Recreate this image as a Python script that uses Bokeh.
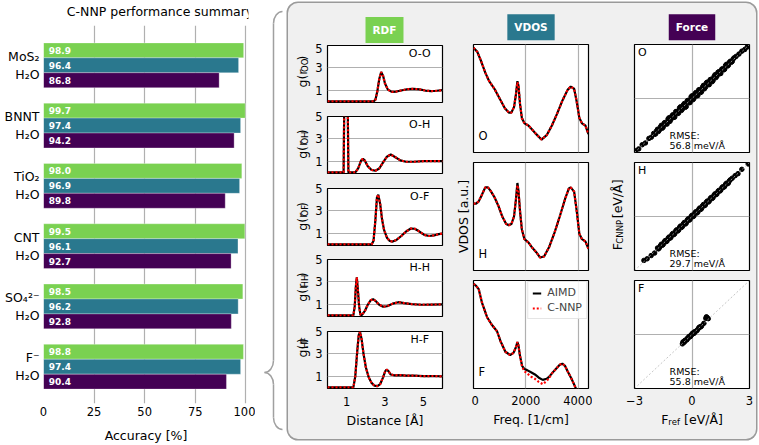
import math
from bokeh.plotting import figure
from bokeh.layouts import row, column
from bokeh.models import ColumnDataSource, Range1d, FixedTicker, Label, Slope, Spacer
from bokeh.embed import file_html
from bokeh.resources import INLINE
from bokeh.core.properties import value

FONT = "DejaVu Sans"
GREEN, TEAL, PURPLE = "#7ad151", "#2a788e", "#440154"
GRID = "#b0b0b0"
PANEL_BG = "#f0f0f0"

# ---------------- data ----------------
title_text = "C-NNP performance summary"
systems = ["MoS\u2082\nH\u2082O", "BNNT\nH\u2082O", "TiO\u2082\nH\u2082O",
           "CNT\nH\u2082O", "SO\u2084\u00b2\u207b\nH\u2082O", "F\u207b\nH\u2082O"]
acc_rdf = [98.9, 99.7, 98.0, 99.5, 98.5, 98.8]
acc_vdos = [96.4, 97.4, 96.9, 96.1, 96.2, 97.4]
acc_force = [86.8, 94.2, 89.8, 92.7, 92.8, 90.4]
acc_ticks = [0, 25, 50, 75, 100]

rdf_pairs = ["O-O", "O-H", "O-F", "H-H", "H-F"]
rdf_subs = ["OO", "OH", "OF", "HH", "HF"]
r_oo = [0, 2.40, 2.50, 2.60, 2.70, 2.80, 2.90, 3.00, 3.15, 3.35, 3.60, 3.90, 4.20, 4.50, 4.80, 5.10, 5.40, 5.70, 6.0]
g_oo = [0, 0, 0.15, 0.9, 2.0, 2.62, 2.3, 1.6, 1.05, 0.85, 0.88, 1.0, 1.1, 1.12, 1.07, 0.97, 0.92, 0.95, 1.0]
r_oh = [0, 0.84, 0.88, 0.97, 1.05, 1.09, 1.45, 1.6, 1.75, 1.85, 1.95, 2.1, 2.3, 2.5, 2.7, 2.9, 3.1, 3.3, 3.5, 3.8, 4.1, 4.5, 5.0, 5.5, 6.0]
g_oh = [0, 0, 7, 20, 7, 0, 0, 0.35, 1.05, 1.22, 1.05, 0.55, 0.22, 0.15, 0.35, 0.9, 1.4, 1.6, 1.4, 1.08, 0.95, 0.95, 1.0, 1.0, 1.0]
r_of = [0, 2.30, 2.40, 2.50, 2.58, 2.65, 2.75, 2.85, 2.95, 3.10, 3.25, 3.40, 3.60, 3.85, 4.10, 4.35, 4.55, 4.80, 5.05, 5.30, 5.55, 5.80, 6.0]
g_of = [0, 0, 0.3, 2.2, 4.2, 4.45, 3.6, 2.2, 1.3, 0.6, 0.3, 0.25, 0.4, 0.75, 1.15, 1.42, 1.4, 1.15, 0.85, 0.75, 0.8, 0.92, 0.97]
r_hh = [0, 1.35, 1.42, 1.48, 1.53, 1.58, 1.65, 1.72, 1.80, 1.95, 2.1, 2.25, 2.38, 2.5, 2.7, 2.9, 3.1, 3.4, 3.7, 4.0, 4.4, 4.9, 5.4, 6.0]
g_hh = [0, 0, 0.8, 2.6, 3.4, 2.4, 0.8, 0.05, 0.05, 0.4, 0.95, 1.35, 1.45, 1.3, 0.95, 0.78, 0.82, 1.05, 1.18, 1.1, 1.0, 0.95, 0.97, 0.98]
r_hf = [0, 1.35, 1.45, 1.55, 1.63, 1.70, 1.78, 1.88, 2.0, 2.15, 2.3, 2.45, 2.6, 2.75, 2.9, 3.0, 3.08, 3.18, 3.3, 3.5, 3.8, 4.1, 4.5, 5.0, 5.5, 6.0]
g_hf = [0, 0, 1.0, 3.2, 4.7, 4.95, 4.3, 3.0, 1.8, 0.9, 0.4, 0.15, 0.12, 0.3, 0.9, 1.4, 1.6, 1.45, 1.15, 1.08, 1.1, 1.05, 1.05, 1.0, 1.02, 0.98]
rdf_ticks = [1, 3, 5]

vdos_species = ["O", "H", "F"]
freq_o = [0, 150, 300, 450, 600, 800, 1000, 1200, 1350, 1450, 1550, 1620, 1680, 1720, 1780, 1850, 1950, 2100, 2250, 2400, 2600, 2800, 3000, 3200, 3400, 3600, 3720, 3850, 3950, 4050, 4150, 4280, 4400]
vdos_o_aimd = [0.97, 0.93, 0.84, 0.74, 0.66, 0.59, 0.50, 0.41, 0.37, 0.37, 0.42, 0.53, 0.66, 0.62, 0.45, 0.32, 0.27, 0.25, 0.21, 0.17, 0.12, 0.16, 0.25, 0.36, 0.48, 0.58, 0.61, 0.59, 0.47, 0.32, 0.27, 0.25, 0.17]
vdos_o_cnnp = [0.97, 0.93, 0.84, 0.74, 0.66, 0.59, 0.50, 0.41, 0.37, 0.37, 0.42, 0.53, 0.65, 0.62, 0.45, 0.32, 0.27, 0.25, 0.21, 0.17, 0.12, 0.16, 0.25, 0.36, 0.48, 0.58, 0.61, 0.59, 0.47, 0.32, 0.27, 0.25, 0.17]
freq_h = [0, 100, 200, 300, 450, 550, 650, 800, 950, 1100, 1250, 1350, 1450, 1550, 1620, 1680, 1720, 1780, 1850, 1950, 2100, 2250, 2400, 2550, 2700, 2900, 3100, 3300, 3500, 3650, 3720, 3850, 3950, 4050, 4150, 4280, 4400]
vdos_h_aimd = [0.62, 0.62, 0.64, 0.69, 0.77, 0.77, 0.74, 0.68, 0.60, 0.50, 0.43, 0.42, 0.43, 0.50, 0.65, 0.81, 0.74, 0.55, 0.38, 0.29, 0.26, 0.21, 0.17, 0.12, 0.13, 0.22, 0.35, 0.50, 0.66, 0.76, 0.77, 0.73, 0.55, 0.34, 0.29, 0.27, 0.20]
vdos_h_cnnp = [0.62, 0.62, 0.64, 0.69, 0.77, 0.77, 0.74, 0.68, 0.60, 0.50, 0.43, 0.42, 0.43, 0.50, 0.65, 0.79, 0.74, 0.55, 0.38, 0.29, 0.26, 0.21, 0.17, 0.12, 0.13, 0.22, 0.35, 0.50, 0.66, 0.76, 0.77, 0.73, 0.55, 0.34, 0.29, 0.27, 0.20]
freq_f = [0, 100, 200, 330, 520, 700, 900, 1030, 1220, 1400, 1530, 1620, 1680, 1720, 1780, 1860, 1950, 2050, 2200, 2350, 2500, 2650, 2800, 2900, 3000, 3150, 3300, 3400, 3500, 3600, 3750, 3900, 4000]
vdos_f_aimd = [0.97, 0.95, 0.92, 0.79, 0.66, 0.59, 0.53, 0.44, 0.34, 0.31, 0.33, 0.38, 0.43, 0.40, 0.30, 0.21, 0.18, 0.17, 0.15, 0.13, 0.10, 0.08, 0.09, 0.11, 0.14, 0.18, 0.22, 0.23, 0.21, 0.16, 0.09, 0.01, -0.05]
vdos_f_cnnp = [0.97, 0.95, 0.92, 0.79, 0.66, 0.59, 0.53, 0.44, 0.34, 0.31, 0.33, 0.38, 0.43, 0.40, 0.30, 0.20, 0.16, 0.14, 0.11, 0.09, 0.06, 0.04, 0.07, 0.10, 0.14, 0.18, 0.22, 0.23, 0.21, 0.16, 0.09, 0.01, -0.05]
vdos_ticks = [0, 2000, 4000]

force_species = ["O", "H", "F"]
force_o_ref = ([-2.95, -2.78, -2.60, -2.43, -2.25, -2.12]
               + [-2.0, -1.9, -1.8, -1.7, -1.6, -1.5, -1.4, -1.3, -1.2, -1.1, -1.0, -0.9, -0.8, -0.7, -0.6, -0.5, -0.4, -0.3, -0.2, -0.1, 0.0,
                  0.1, 0.2, 0.3, 0.4, 0.5, 0.6, 0.7, 0.8, 0.9, 1.0, 1.1, 1.2, 1.3, 1.4, 1.5, 1.6, 1.7, 1.8, 1.9, 2.0, 2.1, 2.2]
               + [-1.95, -1.85, -1.75, -1.65, -1.55, -1.45, -1.35, -1.25, -1.15, -1.05, -0.95, -0.85, -0.75, -0.65, -0.55, -0.45, -0.35, -0.25, -0.15, -0.05,
                  0.05, 0.15, 0.25, 0.35, 0.45, 0.55, 0.65, 0.75, 0.85, 0.95, 1.05, 1.15, 1.25, 1.35, 1.45, 1.55, 1.65, 1.75, 1.85, 1.95, 2.05, 2.15]
               + [2.30, 2.45, 2.60, 2.75, 2.88])
force_o_cnnp = ([-2.90, -2.80, -2.57, -2.47, -2.22, -2.15]
                + [-1.94, -1.97, -1.71, -1.75, -1.49, -1.59, -1.33, -1.42, -1.07, -1.16, -0.90, -1.03, -0.72, -0.81, -0.46, -0.59, -0.28, -0.45, -0.10, -0.22, 0.15,
                   0.00, 0.33, 0.16, 0.49, 0.38, 0.73, 0.62, 0.91, 0.77, 1.07, 1.00, 1.32, 1.24, 1.49, 1.39, 1.65, 1.62, 1.90, 1.85, 2.07, 2.06, 2.26]
                + [-1.99, -1.80, -1.83, -1.58, -1.65, -1.36, -1.41, -1.14, -1.27, -0.97, -1.05, -0.73, -0.84, -0.52, -0.66, -0.35, -0.49, -0.13, -0.24, 0.09,
                   -0.07, 0.26, 0.15, 0.48, 0.33, 0.64, 0.54, 0.87, 0.77, 1.05, 0.93, 1.22, 1.16, 1.45, 1.38, 1.63, 1.59, 1.84, 1.80, 2.01, 2.01, 2.20]
                + [2.34, 2.47, 2.63, 2.72, 2.86])
force_h_ref = ([-2.51, -2.34, -2.13, -1.95]
               + [-1.8, -1.7, -1.6, -1.5, -1.4, -1.3, -1.2, -1.1, -1.0, -0.9, -0.8, -0.7, -0.6, -0.5, -0.4, -0.3, -0.2, -0.1, 0.0,
                  0.1, 0.2, 0.3, 0.4, 0.5, 0.6, 0.7, 0.8, 0.9, 1.0, 1.1, 1.2, 1.3, 1.4, 1.5, 1.6, 1.7, 1.8, 1.9, 2.0]
               + [-1.75, -1.65, -1.55, -1.45, -1.35, -1.25, -1.15, -1.05, -0.95, -0.85, -0.75, -0.65, -0.55, -0.45, -0.35, -0.25, -0.15, -0.05,
                  0.05, 0.15, 0.25, 0.35, 0.45, 0.55, 0.65, 0.75, 0.85, 0.95, 1.05, 1.15, 1.25, 1.35, 1.45, 1.55, 1.65, 1.75, 1.85, 1.95]
               + [2.10, 2.25, 2.40, 2.60, 2.93])
force_h_cnnp = ([-2.44, -2.35, -2.17, -2.03]
                + [-1.75, -1.74, -1.54, -1.55, -1.34, -1.36, -1.14, -1.16, -0.94, -0.96, -0.74, -0.76, -0.53, -0.56, -0.33, -0.37, -0.13, -0.16, 0.07,
                   0.03, 0.27, 0.23, 0.47, 0.44, 0.67, 0.64, 0.86, 0.85, 1.06, 1.05, 1.26, 1.25, 1.45, 1.46, 1.65, 1.66, 1.85, 1.86, 2.04]
                + [-1.80, -1.62, -1.60, -1.41, -1.40, -1.21, -1.21, -1.00, -1.01, -0.80, -0.81, -0.60, -0.61, -0.40, -0.42, -0.20, -0.21, 0.00,
                   -0.01, 0.20, 0.19, 0.40, 0.39, 0.60, 0.60, 0.80, 0.80, 1.00, 1.00, 1.19, 1.21, 1.39, 1.41, 1.59, 1.62, 1.79, 1.82, 1.98]
                + [2.13, 2.27, 2.38, 2.62, 2.92])
force_f_ref = [-0.50, -0.45, -0.40, -0.35, -0.30, -0.25, -0.20, -0.15, -0.10, -0.05, 0.00, 0.05, 0.10, 0.15, 0.20, 0.30, 0.40, 0.50,
               0.62, 0.72, 0.78, 0.85, -0.47, -0.37, -0.27, -0.17, -0.07, 0.03, 0.13, 0.25, 0.35, 0.45, 0.75]
force_f_cnnp = [-0.52, -0.42, -0.43, -0.33, -0.30, -0.22, -0.21, -0.12, -0.12, -0.02, 0.00, 0.08, 0.06, 0.16, 0.18, 0.28, 0.42, 0.47,
                0.62, 0.90, 0.95, 0.88, -0.41, -0.33, -0.30, -0.13, -0.10, 0.07, 0.10, 0.21, 0.37, 0.42, 0.98]
force_rmse = ["56.8", "29.7", "55.8"]
force_ticks = [-3, 0, 3]

# ---------------- helpers ----------------
EM = {"g": .635, "(": .390, ")": .390, "r": .411, "O": .787, "H": .752, "F": .575,
      "C": .698, "N": .748, "P": .603, " ": .318, "[": .390, "]": .390, "e": .615,
      "V": .684, "/": .337, "\u00c5": .684, "f": .352}


def tw(s, size):
    return sum(EM.get(c, .6) for c in s) * size


def style_axis(ax, size="11.5px", standoff=5):
    ax.major_label_text_font = FONT
    ax.major_label_text_font_size = size
    ax.major_label_text_color = "black"
    ax.major_label_standoff = standoff
    ax.axis_label_text_font = FONT
    ax.axis_label_text_font_size = "12.5px"
    ax.axis_label_text_font_style = "normal"
    ax.axis_label_text_color = "black"
    ax.axis_label_standoff = 4
    ax.axis_line_color = None
    ax.major_tick_line_color = None
    ax.minor_tick_line_color = None
    ax.major_tick_in = 0
    ax.major_tick_out = 0
    ax.minor_tick_in = 0
    ax.minor_tick_out = 0


def sub_fig(w, h, xr, yr, bl, br, bt, bb, xaxis, yaxis):
    p = figure(width=w, height=h, x_range=Range1d(*xr), y_range=Range1d(*yr),
               output_backend="svg", toolbar_location=None,
               x_axis_location="below" if xaxis else None,
               y_axis_location="left" if yaxis else None,
               min_border_left=bl, min_border_right=br, min_border_top=bt, min_border_bottom=bb)
    p.border_fill_color = None
    p.background_fill_color = "white"
    p.outline_line_color = "black"
    p.outline_line_width = 1.2
    for ax in p.axis:
        style_axis(ax)
    return p


def text_fig(w, h):
    p = figure(width=w, height=h, x_range=Range1d(0, w), y_range=Range1d(0, h),
               output_backend="svg", toolbar_location=None,
               x_axis_location=None, y_axis_location=None, min_border=0)
    p.border_fill_color = None
    p.background_fill_color = None
    p.outline_line_color = None
    p.grid.visible = False
    return p


def pieces(p, parts, bx, by, vertical, sub_shift=2.5):
    total = sum(tw(t, s) for t, s, _ in parts)
    pos = (by if vertical else bx) - total / 2
    for t, s, is_sub in parts:
        if t.strip():
            sh = sub_shift if is_sub else 0
            if vertical:
                x, y, ang = bx + sh, pos, math.pi / 2
            else:
                x, y, ang = pos, by - sh, 0
            p.text(x=[x], y=[y], text=[t], angle=ang, text_align="left", text_baseline="alphabetic",
                   text_font=value(FONT), text_font_size=value(f"{s}px"), text_color="black")
        pos += tw(t, s)


def header_fig(w, h, text, color, cx, cy):
    p = text_fig(w, h)
    p.add_layout(Label(x=cx, y=cy, text=text, text_align="center", text_baseline="middle",
                       text_font=FONT, text_font_size="10.5px", text_font_style="bold",
                       text_color="white", background_fill_color=color, padding=7))
    return p


# ---------------- left: bar summary ----------------
title_fig = text_fig(255, 25)
title_fig.text(x=[145], y=[14], text=[title_text], text_align="center", text_baseline="middle",
               text_font=value(FONT), text_font_size=value("12.5px"), text_color="black")

left = figure(width=255, height=420, x_range=Range1d(0, 101.3), y_range=Range1d(5.61, -0.66),
              output_backend="svg", toolbar_location=None,
              min_border_left=43, min_border_right=7, min_border_top=0, min_border_bottom=40)
left.outline_line_color = None
BW = 0.2475
for vals, col, k in [(acc_rdf, GREEN, -1), (acc_vdos, TEAL, 0), (acc_force, PURPLE, 1)]:
    src = ColumnDataSource(dict(y=[i + k * BW for i in range(len(systems))], v=vals,
                                lab=[f"{v:.1f}" for v in vals]))
    left.hbar(y="y", left=0, right="v", height=BW, source=src, fill_color=col,
              line_color="white", line_width=0.6, line_alpha=0.5)
    left.text(x=2.6, y="y", text="lab", source=src, text_font=value(FONT), text_font_style="bold",
              text_font_size="9px", text_color="white", text_baseline="middle", text_align="left")
left.xgrid.ticker = FixedTicker(ticks=acc_ticks)
left.xgrid.grid_line_color = GRID
left.xgrid.grid_line_width = 1.2
left.ygrid.visible = False
for ax in left.axis:
    style_axis(ax)
left.xaxis.ticker = FixedTicker(ticks=acc_ticks)
left.xaxis.major_label_standoff = 3
left.xaxis.axis_label = "Accuracy [%]"
left.xaxis.axis_label_standoff = 9
left.yaxis.ticker = FixedTicker(ticks=list(range(len(systems))))
left.yaxis.major_label_overrides = {i: s for i, s in enumerate(systems)}
left.yaxis.major_label_text_font_size = "12.5px"
left.yaxis.major_label_standoff = 4

# ---------------- brace ----------------
brace = figure(width=33, height=445, x_range=Range1d(255, 288), y_range=Range1d(445, 0),
               output_backend="svg", toolbar_location=None,
               x_axis_location=None, y_axis_location=None, min_border=0)
brace.outline_line_color = None
brace.grid.visible = False
BX, TIPX, ENDX, BTOP, BTIP, BBOT, BR, KR = 273, 264, 282, 11, 372, 429, 12, 0.55
brace.bezier(x0=[ENDX, BX, TIPX, BX], y0=[BTOP, BTIP - BR, BTIP, BBOT - BR],
             x1=[BX, TIPX, BX, ENDX], y1=[BTOP + BR, BTIP, BTIP + BR, BBOT],
             cx0=[ENDX - KR * (ENDX - BX), BX, TIPX + KR * (BX - TIPX), BX],
             cy0=[BTOP, BTIP - BR + KR * BR, BTIP, BBOT - BR + KR * BR],
             cx1=[BX, TIPX + KR * (BX - TIPX), BX, ENDX - KR * (ENDX - BX)],
             cy1=[BTOP + BR - KR * BR, BTIP, BTIP + BR - KR * BR, BBOT],
             line_color="#a0a0a0", line_width=1.5)
brace.segment(x0=[BX, BX], y0=[BTOP + BR, BTIP + BR], x1=[BX, BX], y1=[BTIP - BR, BBOT - BR],
              line_color="#a0a0a0", line_width=1.5)

# ---------------- RDF column ----------------
rdf_curves = [(r_oo, g_oo), (r_oh, g_oh), (r_of, g_of), (r_hh, g_hh), (r_hf, g_hf)]
rdf_h = [66, 72, 71, 72, 115]
rdf_t = [2, 7, 7, 7, 7]
rdf_b = [7, 8, 7, 8, 51]
rdf_items = [header_fig(162, 40, "RDF", GREEN, 96, 13.5)]
for i, (xs, ys) in enumerate(rdf_curves):
    last = i == len(rdf_curves) - 1
    p = sub_fig(138, rdf_h[i], (0, 6), (-0.1, 5.0), 14, 8, rdf_t[i], rdf_b[i], last, True)
    p.line(xs, ys, line_color="black", line_width=2.2)
    p.line(xs, ys, line_color="red", line_width=2.2, line_dash="2 2")
    p.xgrid.visible = False
    p.ygrid.ticker = FixedTicker(ticks=rdf_ticks)
    p.ygrid.grid_line_color = GRID
    p.ygrid.grid_line_width = 1.2
    p.yaxis.ticker = FixedTicker(ticks=rdf_ticks)
    p.yaxis.major_label_standoff = 5
    if last:
        p.xaxis.ticker = FixedTicker(ticks=rdf_ticks)
        p.xaxis.major_label_standoff = 8
        p.xaxis.axis_label = "Distance [\u00c5]"
    p.add_layout(Label(x=4.81, y=4.9, text=rdf_pairs[i], text_align="center", text_baseline="top",
                       text_font=FONT, text_font_size="11px", text_color="black"))
    lab = text_fig(24, rdf_h[i])
    pieces(lab, [("g(r", 12.5, False), (rdf_subs[i], 8.5, True), (")", 12.5, False)],
           14, rdf_b[i] + 28.5, True)
    rdf_items.append(row(lab, p))

# ---------------- VDOS column ----------------
vdos_curves = [(freq_o, vdos_o_aimd, vdos_o_cnnp), (freq_h, vdos_h_aimd, vdos_h_cnnp),
               (freq_f, vdos_f_aimd, vdos_f_cnnp)]
col_h = [116, 118, 164]
col_t = [3, 5, 5]
col_b = [5, 5, 51]
vdos_items = [header_fig(142, 38, "VDOS", TEAL, 80.5, 14.3)]
for i, (fx, ya, yc) in enumerate(vdos_curves):
    last = i == len(vdos_curves) - 1
    p = sub_fig(121, col_h[i], (0, 4400), (0, 1), 2, 4, col_t[i], col_b[i], last, False)
    if last:
        p.line(fx, ya, line_color="black", line_width=2.2, legend_label="AIMD")
        p.line(fx, yc, line_color="red", line_width=2.2, line_dash="2 2", legend_label="C-NNP")
        p.legend.location = "top_right"
        p.legend.margin = 1
        p.legend.padding = 4
        p.legend.spacing = 2
        p.legend.label_standoff = 6
        p.legend.glyph_width = 9
        p.legend.glyph_height = 12
        p.legend.label_height = 12
        p.legend.label_text_font = FONT
        p.legend.label_text_font_size = "11px"
        p.legend.border_line_color = "#cccccc"
        p.legend.background_fill_alpha = 0.85
        p.xaxis.ticker = FixedTicker(ticks=vdos_ticks)
        p.xaxis.major_label_standoff = 7
        p.xaxis.axis_label = "Freq. [1/cm]"
    else:
        p.line(fx, ya, line_color="black", line_width=2.2)
        p.line(fx, yc, line_color="red", line_width=2.2, line_dash="2 2")
    p.ygrid.visible = False
    p.xgrid.ticker = FixedTicker(ticks=vdos_ticks)
    p.xgrid.grid_line_color = GRID
    p.xgrid.grid_line_width = 1.2
    p.add_layout(Label(x=190, y=0.085, text=vdos_species[i], text_align="left", text_baseline="bottom",
                       text_font=FONT, text_font_size="11.5px", text_color="black"))
    if i == 1:
        lab = text_fig(21, col_h[i])
        lab.text(x=[13], y=[col_b[i] + 54], text=["VDOS [a.u.]"], angle=math.pi / 2, text_align="center",
                 text_baseline="middle", text_font=value(FONT), text_font_size=value("12.5px"), text_color="black")
    else:
        lab = Spacer(width=21, height=col_h[i])
    vdos_items.append(row(lab, p))

# ---------------- Force column ----------------
force_pts = [(force_o_ref, force_o_cnnp), (force_h_ref, force_h_cnnp), (force_f_ref, force_f_cnnp)]
force_h = [116, 118, 135]
force_b = [5, 5, 22]
force_items = [header_fig(164, 38, "Force", PURPLE, 99.5, 14.3)]
for i, (fr, fc) in enumerate(force_pts):
    last = i == len(force_pts) - 1
    p = sub_fig(132, force_h[i], (-3, 3), (-3, 3), 10, 7, col_t[i], force_b[i], last, False)
    p.xgrid.ticker = FixedTicker(ticks=[0])
    p.ygrid.ticker = FixedTicker(ticks=[0])
    p.grid.grid_line_color = GRID
    p.grid.grid_line_width = 1.2
    p.add_layout(Slope(gradient=1, y_intercept=0, line_color="#b8b8b8", line_width=0.8, line_dash="2 2"))
    p.scatter(fr, fc, size=4.5, color="black")
    p.add_layout(Label(x=-2.82, y=2.92, text=force_species[i], text_align="left", text_baseline="top",
                       text_font=FONT, text_font_size="11px", text_color="black"))
    p.add_layout(Label(x=-1.17, y=-2.03, text="RMSE:", text_align="left", text_baseline="alphabetic",
                       text_font=FONT, text_font_size="9.5px", text_color="black"))
    p.add_layout(Label(x=-1.17, y=-2.63, text=f"{force_rmse[i]} meV/\u00c5", text_align="left",
                       text_baseline="alphabetic", text_font=FONT, text_font_size="9.5px", text_color="black"))
    if i == 1:
        lab = text_fig(32, force_h[i])
        pieces(lab, [("F", 12.5, False), ("CNNP", 8.5, True), (" ", 12.5, False), ("[eV/\u00c5]", 12.5, False)],
               25, force_b[i] + 54, True)
    else:
        lab = Spacer(width=32, height=force_h[i])
    if last:
        p.xaxis.ticker = FixedTicker(ticks=force_ticks)
        p.xaxis.major_label_standoff = 7
        p.xaxis.major_label_overrides = {-3: "\u22123", 0: "0", 3: "3"}
    force_items.append(row(lab, p))
xlab = text_fig(164, 29)
pieces(xlab, [("F", 12.5, False), ("ref", 8.5, True), (" ", 12.5, False), ("[eV/\u00c5]", 12.5, False)],
       99.5, 20, False)
force_items.append(xlab)

panel = row(column(*rdf_items), column(*vdos_items), column(*force_items),
            styles={"background-color": PANEL_BG, "border-radius": "10px",
                    "box-shadow": "0 0 0 1.5px #9a9a9a"})
right = column(Spacer(width=468, height=3), panel)
root = row(column(title_fig, left), brace, right)

open("out.html", "w").write(file_html(root, INLINE))
